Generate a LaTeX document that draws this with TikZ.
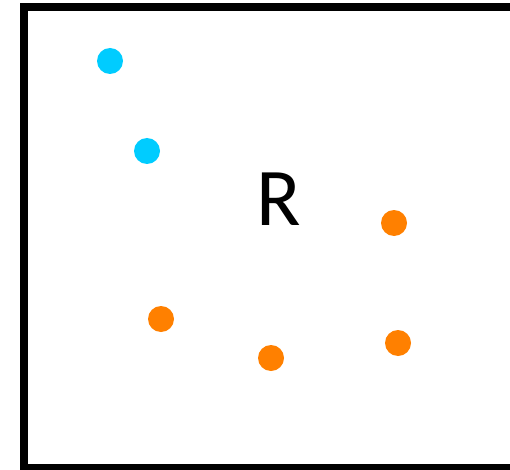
\documentclass[tikz,border=0pt]{standalone}
\usepackage{fontspec}
\setmainfont{Carlito}
\definecolor{dotcyan}{RGB}{0,204,255}
\definecolor{dotorange}{RGB}{255,128,0}
\begin{document}
\begin{tikzpicture}[x=1pt,y=1pt,
  cdot/.style={circle,fill=dotcyan,inner sep=0pt,minimum size=26pt},
  odot/.style={circle,fill=dotorange,inner sep=0pt,minimum size=26pt}]
\useasboundingbox (0,0) rectangle (510,469);
\clip (0,0) rectangle (510,469);
\draw[line width=7.5pt] (24,1.5) rectangle (530,462);
\node[font=\fontsize{82}{82}\selectfont,inner sep=0pt] (R) at (279,270) {R};
\node[cdot] (c1) at (110,408) {};
\node[cdot] (c2) at (147,318) {};
\node[odot] (o1) at (394,246) {};
\node[odot] (o2) at (161,150) {};
\node[odot] (o3) at (271,111) {};
\node[odot] (o4) at (398,126) {};
\end{tikzpicture}
\end{document}
